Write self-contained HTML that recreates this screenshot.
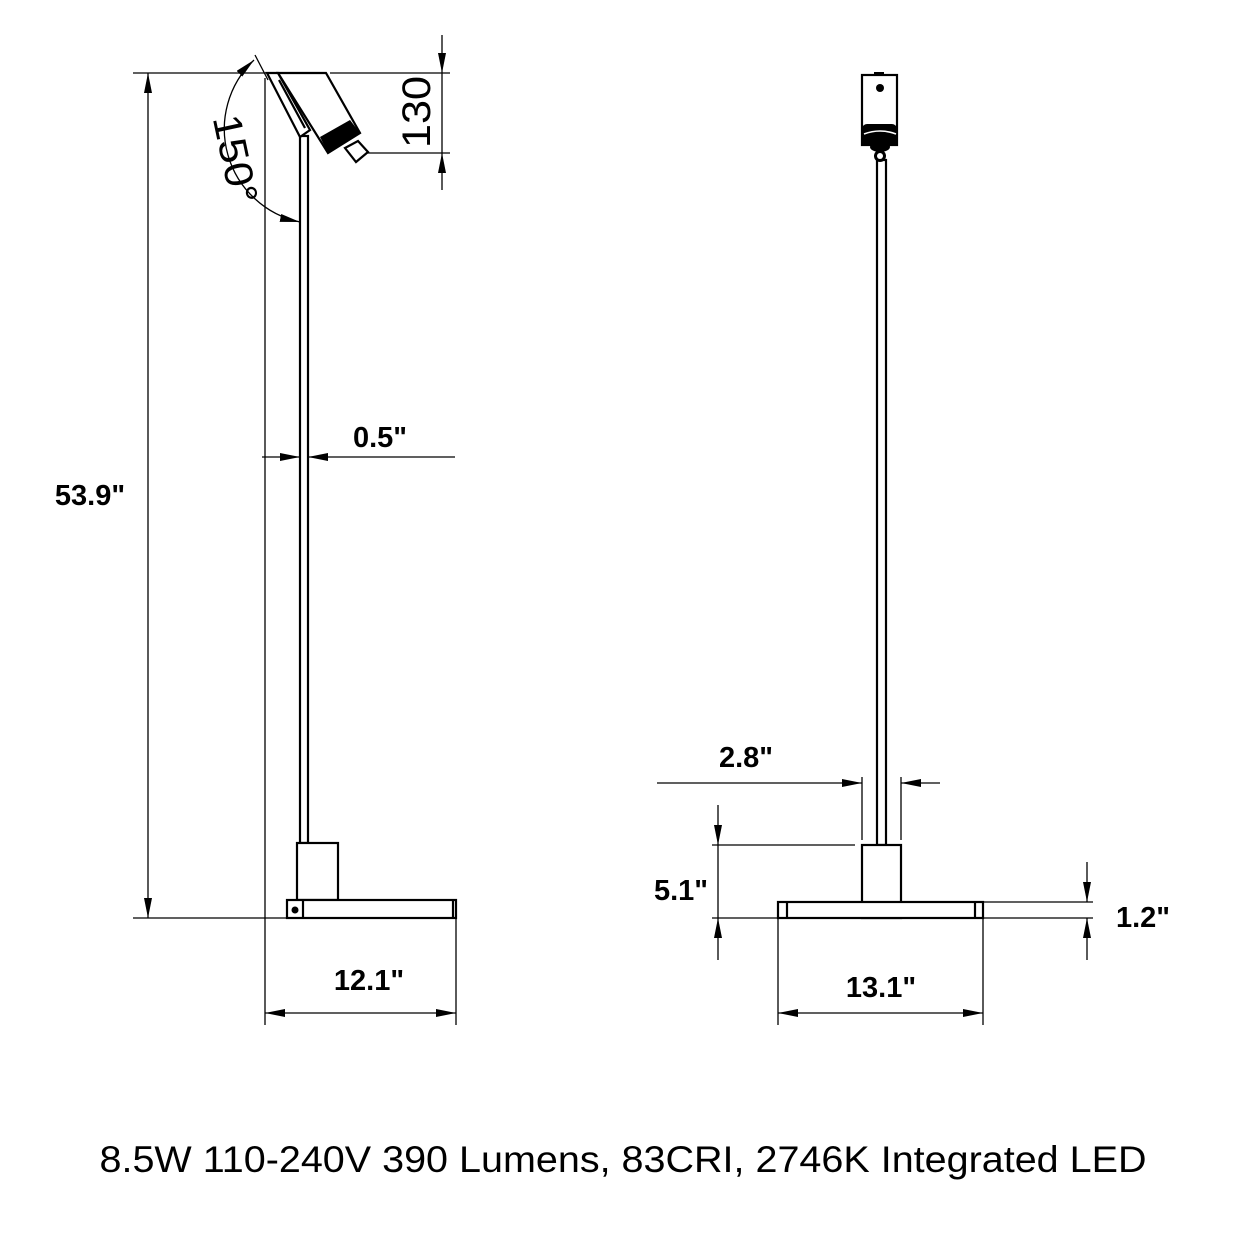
<!DOCTYPE html>
<html><head><style>body{margin:0;background:#fff}svg{display:block}text{font-family:"Liberation Sans",sans-serif}</style></head><body>
<svg width="1240" height="1240" viewBox="0 0 1240 1240" xmlns="http://www.w3.org/2000/svg">
<defs>
<marker id="a" viewBox="0 0 20 8" refX="20" refY="4" markerWidth="20" markerHeight="8" markerUnits="userSpaceOnUse" orient="auto-start-reverse"><path d="M0,0L20,4L0,8z" fill="#000"/></marker>
</defs>
<g stroke="#000" stroke-width="1.3" fill="none">
<line x1="133" y1="73" x2="272" y2="73"/><line x1="330" y1="73" x2="450" y2="73"/>
<line x1="133" y1="918" x2="290" y2="918"/>
<line x1="265" y1="78" x2="265" y2="1025"/>
<line x1="456" y1="918" x2="456" y2="1025"/>
<line x1="148" y1="73" x2="148" y2="918" marker-start="url(#a)" marker-end="url(#a)"/>
<line x1="265" y1="1013" x2="456" y2="1013" marker-start="url(#a)" marker-end="url(#a)"/>
<line x1="262" y1="457" x2="300" y2="457" marker-end="url(#a)"/>
<line x1="455" y1="457" x2="308" y2="457" marker-end="url(#a)"/>
<line x1="442" y1="35" x2="442" y2="73" marker-end="url(#a)"/>
<line x1="442" y1="190" x2="442" y2="153" marker-end="url(#a)"/>
<line x1="442" y1="73" x2="442" y2="153"/>
<line x1="365" y1="153" x2="450" y2="153"/>
<line x1="255" y1="55" x2="268" y2="80"/>
<path d="M254,60 A95,95 0 0 0 300,222" marker-start="url(#a)" marker-end="url(#a)"/>
</g>
<g stroke="#000" stroke-width="2.2" fill="#fff">
<rect x="300" y="136" width="8" height="707"/>
<rect x="297" y="843" width="41" height="57"/>
<rect x="287" y="900" width="169" height="18"/>
<line x1="303" y1="900" x2="303" y2="918"/>
<line x1="453" y1="900" x2="453" y2="918"/>
<polygon points="267,73 278,73 310,130 300,137"/>
<line x1="279" y1="80" x2="305" y2="128"/>
<polygon points="278,73 326,73 360,133 328,153"/>
<polygon points="345,148 358,141 368,152 356,162"/>
</g>
<polygon points="320,137 350,120 360,133 328,153" fill="#000"/>
<circle cx="295" cy="910" r="3.5" fill="#000"/>
<g stroke="#000" stroke-width="1.3" fill="none">
<line x1="657" y1="783" x2="862" y2="783" marker-end="url(#a)"/>
<line x1="940" y1="783" x2="901" y2="783" marker-end="url(#a)"/>
<line x1="862" y1="777" x2="862" y2="840"/><line x1="901" y1="777" x2="901" y2="840"/>
<line x1="712" y1="845" x2="855" y2="845"/>
<line x1="712" y1="918" x2="1093" y2="918"/>
<line x1="983" y1="902" x2="1093" y2="902"/>
<line x1="718" y1="805" x2="718" y2="845" marker-end="url(#a)"/>
<line x1="718" y1="960" x2="718" y2="918" marker-end="url(#a)"/>
<line x1="718" y1="845" x2="718" y2="918"/>
<line x1="1087" y1="862" x2="1087" y2="902" marker-end="url(#a)"/>
<line x1="1087" y1="960" x2="1087" y2="918" marker-end="url(#a)"/>
<line x1="778" y1="918" x2="778" y2="1025"/><line x1="983" y1="918" x2="983" y2="1025"/>
<line x1="778" y1="1013" x2="983" y2="1013" marker-start="url(#a)" marker-end="url(#a)"/>
</g>
<g stroke="#000" stroke-width="2.2" fill="#fff">
<rect x="877" y="160" width="9" height="685"/>
<rect x="862" y="845" width="39" height="73"/>
<rect x="778" y="902" width="205" height="16"/>
<line x1="787" y1="902" x2="787" y2="918"/><line x1="975" y1="902" x2="975" y2="918"/>
<rect x="862" y="75" width="35" height="70"/>
</g>
<rect x="862" y="124" width="35" height="22" rx="5" fill="#000"/>
<path d="M864,134 Q880,128 896,134" stroke="#fff" stroke-width="1.5" fill="none"/>
<ellipse cx="880" cy="147" rx="10" ry="5" fill="#000"/>
<circle cx="880" cy="156" r="6" fill="#000"/><circle cx="880" cy="156" r="3" fill="#fff"/>
<circle cx="880" cy="88" r="4" fill="#000"/>
<rect x="874" y="72" width="10" height="3" fill="#000"/>
<g font-weight="bold" font-size="29" text-anchor="middle">
<text x="90" y="505">53.9"</text>
<text x="380" y="447">0.5"</text>
<text x="369" y="990">12.1"</text>
<text x="746" y="767">2.8"</text>
<text x="681" y="900">5.1"</text>
<text x="1143" y="927">1.2"</text>
<text x="881" y="997">13.1"</text>
</g>
<text transform="translate(430,112) rotate(-90)" font-size="40" text-anchor="middle" textLength="72" lengthAdjust="spacingAndGlyphs">130</text>
<text transform="translate(222,162) rotate(78)" font-size="40" text-anchor="middle" textLength="90" lengthAdjust="spacingAndGlyphs">150°</text>
<text x="623" y="1172" font-size="37" text-anchor="middle" textLength="1047" lengthAdjust="spacingAndGlyphs">8.5W 110-240V 390 Lumens, 83CRI, 2746K Integrated LED</text>
</svg>
</body></html>
